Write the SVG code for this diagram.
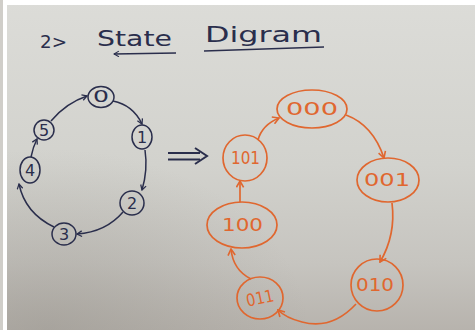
<svg xmlns="http://www.w3.org/2000/svg" width="475" height="330" viewBox="0 0 475 330">
  <defs>
    <linearGradient id="paper" x1="0" y1="0" x2="0" y2="1">
      <stop offset="0" stop-color="#dcdcd8"/>
      <stop offset="0.5" stop-color="#d2d2cd"/>
      <stop offset="0.8" stop-color="#c6c4bf"/>
      <stop offset="1" stop-color="#b7b3ad"/>
    </linearGradient>
    <radialGradient id="shade" cx="0.1" cy="1" r="0.55">
      <stop offset="0" stop-color="#8a867f" stop-opacity="0.35"/>
      <stop offset="1" stop-color="#8a867f" stop-opacity="0"/>
    </radialGradient>
    <marker id="inkHead" viewBox="0 0 10 10" refX="9" refY="5" markerWidth="7" markerHeight="7" orient="auto" markerUnits="userSpaceOnUse">
      <path d="M2,1 L9,5 L2,9" fill="none" stroke="#2a2e4c" stroke-width="1.8"/>
    </marker>
    <marker id="orangeHead" viewBox="0 0 10 10" refX="9" refY="5" markerWidth="9" markerHeight="9" orient="auto" markerUnits="userSpaceOnUse">
      <path d="M2,1 L9,5 L2,9" fill="none" stroke="#e0672f" stroke-width="1.8"/>
    </marker>
    <marker id="leftHead" viewBox="0 0 10 10" refX="1" refY="5" markerWidth="7" markerHeight="7" orient="auto" markerUnits="userSpaceOnUse">
      <path d="M8,1 L1,5 L8,9" fill="none" stroke="#2a2e4c" stroke-width="1.6"/>
    </marker>
  </defs>
  <style>
    .ink { fill: none; stroke: #2a2e4c; stroke-width: 1.5; }
    .orange { fill: none; stroke: #e0672f; stroke-width: 1.7; }
    .inkText { font-family: "DejaVu Sans", "Liberation Sans", sans-serif; fill: #2a2e4c; }
    .orangeText { font-family: "DejaVu Sans", "Liberation Sans", sans-serif; fill: #e0672f; font-size: 17px; }
    .num { font-family: "DejaVu Sans", "Liberation Sans", sans-serif; fill: #2a2e4c; font-size: 16px; text-anchor: middle; }
  </style>

  <!-- paper background and edges -->
  <rect x="0" y="0" width="475" height="330" fill="url(#paper)"/>
  <rect x="0" y="0" width="475" height="330" fill="url(#shade)"/>
  <rect x="0" y="0" width="475" height="5" fill="#ffffff"/>
  <rect x="0" y="0" width="7" height="330" fill="#ffffff"/>
  <rect x="0" y="0" width="3" height="330" fill="#d0cec9"/>

  <!-- heading -->
  <g id="title">
    <text class="inkText" x="40" y="48" font-size="17" textLength="27" lengthAdjust="spacingAndGlyphs">2&gt;</text>
    <text class="inkText" x="97" y="46" font-size="21" textLength="75" lengthAdjust="spacingAndGlyphs">State</text>
    <text class="inkText" x="205" y="42" font-size="21" textLength="117" lengthAdjust="spacingAndGlyphs">Digram</text>
    <path class="ink" d="M114,54 L176,53" marker-start="url(#leftHead)"/>
    <path class="ink" d="M204,51 L324,47"/>
  </g>

  <!-- implies sign between the two diagrams -->
  <g id="implies">
    <path d="M168,153 L200,153 M168,159.5 L200,159.5" fill="none" stroke="#2a2e4c" stroke-width="2"/>
    <path d="M195,148 L207,156 L195,164" fill="none" stroke="#2a2e4c" stroke-width="2"/>
  </g>

  <!-- decimal state ring -->
  <g id="connectors-left">
    <path class="ink" d="M113,101 Q133,105 142,124" marker-end="url(#inkHead)"/>
    <path class="ink" d="M145,150 Q148,170 142,190" marker-end="url(#inkHead)"/>
    <path class="ink" d="M123,212 Q106,232 77,234" marker-end="url(#inkHead)"/>
    <path class="ink" d="M54,227 Q25,213 19,184" marker-end="url(#inkHead)"/>
    <path class="ink" d="M31,157 Q33,147 37,139" marker-end="url(#inkHead)"/>
    <path class="ink" d="M51,121 Q66,103 87,96" marker-end="url(#inkHead)"/>
  </g>
  <g id="s0"><ellipse class="ink" cx="101" cy="97" rx="13" ry="10.5"/><text class="num" x="101" y="102" textLength="16" lengthAdjust="spacingAndGlyphs">0</text></g>
  <g id="s1"><ellipse class="ink" cx="142" cy="137" rx="10" ry="12"/><text class="num" x="142" y="143">1</text></g>
  <g id="s2"><ellipse class="ink" cx="132" cy="203" rx="12" ry="12"/><text class="num" x="132" y="209">2</text></g>
  <g id="s3"><ellipse class="ink" cx="64" cy="234" rx="12" ry="11"/><text class="num" x="64" y="240">3</text></g>
  <g id="s4"><ellipse class="ink" cx="30" cy="170" rx="10" ry="13"/><text class="num" x="30" y="176">4</text></g>
  <g id="s5"><ellipse class="ink" cx="44" cy="130" rx="10" ry="10"/><text class="num" x="44" y="136">5</text></g>

  <!-- binary state ring -->
  <g id="connectors-right">
    <path class="orange" d="M346,115 Q373,125 384,158" marker-end="url(#orangeHead)"/>
    <path class="orange" d="M392,203 Q396,235 380,262" marker-end="url(#orangeHead)"/>
    <path class="orange" d="M356,304 Q332,330 302,322 Q286,318 278,310" marker-end="url(#orangeHead)"/>
    <path class="orange" d="M251,279 Q233,270 231,249" marker-end="url(#orangeHead)"/>
    <path class="orange" d="M240,202 L240,181" marker-end="url(#orangeHead)"/>
    <path class="orange" d="M258,140 Q262,125 279,118" marker-end="url(#orangeHead)"/>
  </g>
  <g id="b000"><ellipse class="orange" cx="312" cy="109" rx="35" ry="19"/><text class="orangeText" x="286" y="115" textLength="52" lengthAdjust="spacingAndGlyphs">000</text></g>
  <g id="b001"><ellipse class="orange" cx="388" cy="180" rx="31" ry="22"/><text class="orangeText" x="364" y="186" textLength="46" lengthAdjust="spacingAndGlyphs">001</text></g>
  <g id="b010"><ellipse class="orange" cx="377" cy="285" rx="26" ry="26"/><text class="orangeText" x="356" y="291" textLength="38" lengthAdjust="spacingAndGlyphs">010</text></g>
  <g id="b011"><ellipse class="orange" cx="260" cy="298" rx="23" ry="21"/><text class="orangeText" x="246" y="304" textLength="28" lengthAdjust="spacingAndGlyphs" transform="rotate(-12 260 298)">011</text></g>
  <g id="b100"><ellipse class="orange" cx="242" cy="225" rx="35" ry="23"/><text class="orangeText" x="222" y="231" textLength="41" lengthAdjust="spacingAndGlyphs">100</text></g>
  <g id="b101"><ellipse class="orange" cx="245" cy="158" rx="22" ry="23"/><text class="orangeText" x="231" y="164" textLength="29" lengthAdjust="spacingAndGlyphs">101</text></g>
</svg>
